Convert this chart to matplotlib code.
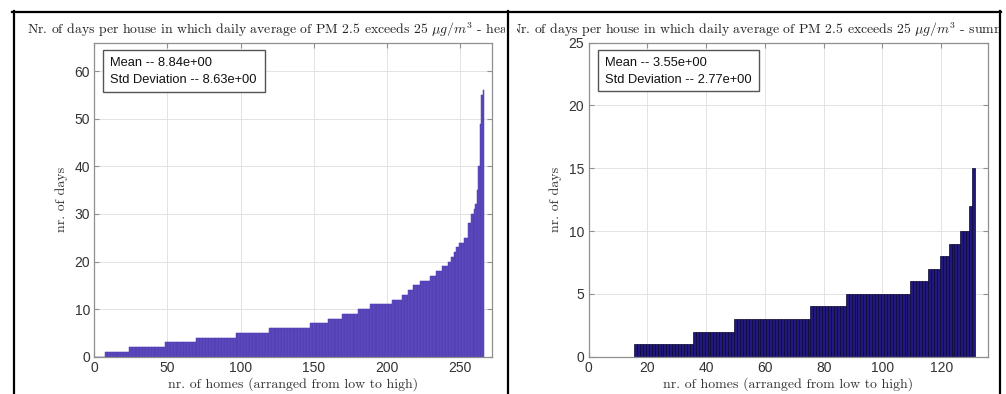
import matplotlib
matplotlib.use("Agg")
import matplotlib.pyplot as plt
from matplotlib.patches import Rectangle
from matplotlib.lines import Line2D
from matplotlib.transforms import Bbox, TransformedBbox

# ---------------- data (sorted days per house) ----------------
heating_days = [
    0, 0, 0, 0, 0, 0, 0,
    1, 1, 1, 1, 1, 1, 1, 1, 1, 1, 1, 1, 1, 1, 1, 1,
    2, 2, 2, 2, 2, 2, 2, 2, 2, 2, 2, 2, 2, 2, 2, 2, 2, 2, 2, 2, 2, 2, 2, 2, 2,
    3, 3, 3, 3, 3, 3, 3, 3, 3, 3, 3, 3, 3, 3, 3, 3, 3, 3, 3, 3, 3,
    4, 4, 4, 4, 4, 4, 4, 4, 4, 4, 4, 4, 4, 4, 4, 4, 4, 4, 4, 4, 4, 4, 4, 4, 4, 4, 4,
    5, 5, 5, 5, 5, 5, 5, 5, 5, 5, 5, 5, 5, 5, 5, 5, 5, 5, 5, 5, 5, 5, 5,
    6, 6, 6, 6, 6, 6, 6, 6, 6, 6, 6, 6, 6, 6, 6, 6, 6, 6, 6, 6, 6, 6, 6, 6, 6, 6, 6, 6,
    7, 7, 7, 7, 7, 7, 7, 7, 7, 7, 7, 7,
    8, 8, 8, 8, 8, 8, 8, 8, 8, 8,
    9, 9, 9, 9, 9, 9, 9, 9, 9, 9, 9,
    10, 10, 10, 10, 10, 10, 10, 10,
    11, 11, 11, 11, 11, 11, 11, 11, 11, 11, 11, 11, 11, 11, 11,
    12, 12, 12, 12, 12, 12, 12,
    13, 13, 13, 13,
    14, 14, 14,
    15, 15, 15, 15, 15,
    16, 16, 16, 16, 16, 16, 16,
    17, 17, 17, 17,
    18, 18, 18, 18,
    19, 19, 19, 19,
    20, 20, 21, 21, 22, 22, 23, 23,
    24, 24, 24, 25, 25, 25,
    28, 28, 30, 30, 31, 32, 35, 40, 49, 55, 56,
]

summer_days = [
    0, 0, 0, 0, 0, 0, 0, 0, 0, 0, 0, 0, 0, 0, 0,
    1, 1, 1, 1, 1, 1, 1, 1, 1, 1, 1, 1, 1, 1, 1, 1, 1, 1, 1, 1,
    2, 2, 2, 2, 2, 2, 2, 2, 2, 2, 2, 2, 2, 2,
    3, 3, 3, 3, 3, 3, 3, 3, 3, 3, 3, 3, 3, 3, 3, 3, 3, 3, 3, 3, 3, 3, 3, 3, 3, 3,
    4, 4, 4, 4, 4, 4, 4, 4, 4, 4, 4, 4,
    5, 5, 5, 5, 5, 5, 5, 5, 5, 5, 5, 5, 5, 5, 5, 5, 5, 5, 5, 5, 5, 5,
    6, 6, 6, 6, 6, 6,
    7, 7, 7, 7,
    8, 8, 8,
    9, 9, 9, 9,
    10, 10, 10,
    12, 15,
]

heating_x = list(range(1, len(heating_days) + 1))
summer_x = list(range(1, len(summer_days) + 1))

heating_stats = ["Mean -- 8.84e+00", "Std Deviation -- 8.63e+00"]
summer_stats = ["Mean -- 3.55e+00", "Std Deviation -- 2.77e+00"]

heating_xticks = [0, 50, 100, 150, 200, 250]
heating_yticks = [0, 10, 20, 30, 40, 50, 60]
summer_xticks = [0, 20, 40, 60, 80, 100, 120]
summer_yticks = [0, 5, 10, 15, 20, 25]

title_left = r"Nr. of days per house in which daily average of PM 2.5 exceeds 25 $\mu g/m^3$ - heating"
title_right = r"Nr. of days per house in which daily average of PM 2.5 exceeds 25 $\mu g/m^3$ - summer"
xlabel_txt = "nr. of homes (arranged from low to high)"
ylabel_txt = "nr. of days"

# ---------------- figure ----------------
W, H = 1006, 394
plt.rcParams["mathtext.fontset"] = "cm"
fig = plt.figure(figsize=(W / 100, H / 100), dpi=100)
fig.patch.set_facecolor("white")


def fx(px):
    return px / W


def fy(py):
    return (H - py) / H


SERIF = "cmr10"
SANS = "Liberation Sans"
SPINE = "#8f8f8f"
TICKC = "#333333"


def style_axes(ax, xlim, ylim, xticks, yticks):
    ax.set_xlim(*xlim)
    ax.set_ylim(*ylim)
    ax.set_xticks(xticks)
    ax.set_yticks(yticks)
    ax.grid(True, color="#e3e3e3", linewidth=0.7)
    ax.set_axisbelow(True)
    for s in ax.spines.values():
        s.set_color(SPINE)
        s.set_linewidth(0.9)
    ax.tick_params(direction="in", length=3.5, width=0.8, color=SPINE,
                   top=True, right=True, labelsize=10, labelcolor=TICKC, pad=3)
    for lab in ax.get_xticklabels() + ax.get_yticklabels():
        lab.set_family(SANS)
    ax.set_xlabel(xlabel_txt, fontfamily=SERIF, fontsize=10, color="#333333", labelpad=1.5)
    ax.set_ylabel(ylabel_txt, fontfamily=SERIF, fontsize=10, color="#333333", labelpad=5)


def stats_box(x0, y0, x1, y1, lines):
    fig.add_artist(Rectangle((fx(x0), fy(y1)), fx(x1) - fx(x0), fy(y0) - fy(y1),
                             transform=fig.transFigure, facecolor="white",
                             edgecolor="#555555", linewidth=1.0, zorder=5))
    fig.text(fx(x0 + 7), fy(y0 + 12.5), lines[0], fontfamily=SANS, fontsize=9.3,
             va="center", ha="left", color="#111111", zorder=6)
    fig.text(fx(x0 + 7), fy(y0 + 30), lines[1], fontfamily=SANS, fontsize=9.3,
             va="center", ha="left", color="#111111", zorder=6)


# left axes
axL = fig.add_axes([fx(94.3), fy(356.7), fx(492.3) - fx(94.3), fy(42.7) - fy(356.7)])
axL.bar(heating_x, heating_days, width=1.0, color="#5f4dc2", edgecolor="#4e3cae",
        linewidth=0.35)
style_axes(axL, (0, 272), (0, 66), heating_xticks, heating_yticks)

# right axes
axR = fig.add_axes([fx(588.5), fy(356.7), fx(988.3) - fx(588.5), fy(42.7) - fy(356.7)])
axR.bar(summer_x, summer_days, width=1.0, color="#22177c", edgecolor="#0a0630",
        linewidth=0.5)
style_axes(axR, (0, 136), (0, 25), summer_xticks, summer_yticks)

stats_box(103, 50, 265, 91.7, heating_stats)
stats_box(597.7, 50, 759.3, 90.7, summer_stats)

# clipped titles (the reference panels crop their titles)
tL = fig.text(fx(27), fy(29.5), title_left, fontfamily=SERIF, fontsize=9.9,
              va="center", ha="left", color="#222222")
tL.set_clip_box(TransformedBbox(Bbox([[fx(13), 0], [fx(505), 1]]), fig.transFigure))
tL.set_clip_on(True)
tR = fig.text(fx(510), fy(29.5), title_right, fontfamily=SERIF, fontsize=9.9,
              va="center", ha="left", color="#222222")
tR.set_clip_box(TransformedBbox(Bbox([[fx(517), 0], [fx(999), 1]]), fig.transFigure))
tR.set_clip_on(True)

# panel borders
for (xa, ya, xb, yb) in [(12, 11.5, 1001, 11.5), (13.5, 11, 13.5, 394),
                         (507.5, 11, 507.5, 394), (1000, 11, 1000, 394)]:
    fig.add_artist(Line2D([fx(xa), fx(xb)], [fy(ya), fy(yb)], transform=fig.transFigure,
                          color="black", linewidth=1.6, zorder=10))

fig.savefig("out.png", dpi=100, facecolor="white")
